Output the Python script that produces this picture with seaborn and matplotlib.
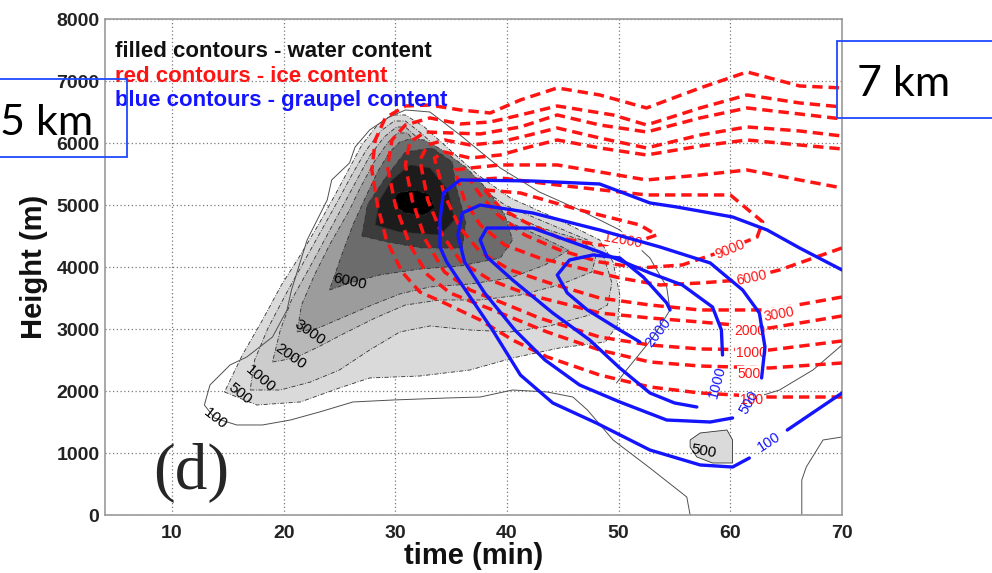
import matplotlib
matplotlib.use("Agg")
import matplotlib.pyplot as plt
import seaborn as sns
from matplotlib.patches import Rectangle

sns.set_theme(style="white")
plt.rcParams['font.family'] = ['Liberation Sans', 'DejaVu Sans']

# ---------------- axes ----------------
X_TICKS = [10, 20, 30, 40, 50, 60, 70]
Y_TICKS = [0, 1000, 2000, 3000, 4000, 5000, 6000, 7000, 8000]
X_LABEL = "time (min)"
Y_LABEL = "Height (m)"
LEGEND_LINES = ["filled contours - water content",
                "red contours - ice content",
                "blue contours - graupel content"]
PANEL = "(d)"

# ---------------- water content (filled, grey) ----------------
W500_T = [14.7, 17.6, 21.5, 25.0, 27.7, 32.2, 36.7, 40.5, 44.7, 48.8, 49.9, 50.1, 49.5, 48.3,
          44.7, 40.3, 37.4, 34.9, 32.6, 30.9, 29.7, 28.4, 27.0, 25.8, 24.6, 23.1, 21.5, 19.8, 18.1, 16.3]
W500_H = [1984, 1774, 1823, 2049, 2210, 2242, 2339, 2532, 2694, 2790, 3065, 3549, 4081, 4436,
          4758, 5113, 5484, 5887, 6258, 6452, 6452, 6291, 5968, 5565, 5162, 4678, 4194, 3710, 3145, 2581]
W1000_T = [17.0, 19.7, 22.4, 25.0, 27.7, 30.4, 33.1, 36.7, 40.3, 43.8, 47.4, 49.0, 49.4, 48.7, 47.2,
           43.8, 39.8, 37.0, 34.5, 32.4, 30.9, 29.9, 28.7, 27.4, 26.1, 24.9, 23.4, 21.8, 20.3, 18.6, 17.4]
W1000_H = [2016, 2016, 2145, 2339, 2661, 2952, 3049, 2984, 2952, 3049, 3226, 3387, 3742, 4145, 4436,
           4694, 5000, 5371, 5791, 6146, 6355, 6355, 6194, 5887, 5484, 5081, 4597, 4081, 3597, 3016, 2500]
W2000_T = [19.0, 21.0, 23.1, 25.5, 28.2, 30.9, 34.0, 37.6, 41.2, 44.7, 47.6, 48.0, 46.7,
           43.4, 39.5, 36.7, 34.2, 32.2, 30.9, 30.1, 29.0, 27.7, 26.5, 25.3, 23.8, 22.3, 20.7, 19.7]
W2000_H = [2468, 2532, 2710, 2936, 3178, 3387, 3468, 3468, 3549, 3710, 3920, 4194, 4436,
           4613, 4887, 5258, 5694, 6049, 6258, 6258, 6097, 5791, 5387, 4984, 4484, 3984, 3468, 2984]
W3000_T = [21.2, 23.1, 25.2, 27.7, 30.4, 33.1, 36.7, 40.3, 43.4, 45.5,
           42.9, 39.4, 36.4, 33.8, 32.0, 31.1, 30.2, 29.3, 28.1, 26.9, 25.8, 24.2, 22.8, 21.6]
W3000_H = [2952, 3016, 3178, 3371, 3565, 3678, 3726, 3823, 4032, 4274,
           4500, 4791, 5145, 5597, 5952, 6162, 6162, 6000, 5694, 5291, 4887, 4387, 3887, 3387]
W6000_T = [24.1, 25.9, 28.6, 32.2, 35.8, 39.4, 40.5, 39.8, 38.3, 36.3, 34.2, 32.6, 31.3,
           30.4, 29.5, 28.4, 27.3, 26.2, 25.2]
W6000_H = [3629, 3742, 3871, 3968, 4016, 4145, 4436, 4839, 5242, 5613, 5887, 6049, 6065,
           6016, 5855, 5533, 5113, 4678, 4194]
W9000_T = [27.0, 29.3, 32.4, 36.0, 36.3, 35.4, 35.1, 33.3, 30.9, 29.1, 27.5]
W9000_H = [4500, 4403, 4307, 4307, 4726, 5323, 5694, 5920, 5855, 5436, 5000]
W12000_T = [28.2, 30.4, 34.0, 35.3, 34.7, 33.1, 31.3, 29.7, 28.6]
W12000_H = [4678, 4565, 4516, 4758, 5242, 5597, 5646, 5404, 5081]
W15000_T = [29.7, 30.9, 32.6, 33.5, 33.1, 31.8, 30.2]
W15000_H = [5000, 4871, 4839, 4952, 5162, 5242, 5194]
W500B_T = [56.4, 57.3, 59.7, 60.2, 60.2, 58.4, 57.0, 56.4]
W500B_H = [1210, 1323, 1371, 1210, 839, 839, 936, 1097]
WATER_COLORS = ['#dadada', '#cccccc', '#b8b8b8', '#9c9c9c', '#6c6c6c', '#3c3c3c', '#1c1c1c', '#000000']

# thin low-level water lines (100 contour)
W100_T = [56.4, 56.1, 52.8, 49.5, 47.2, 45.9, 43.6, 40.5, 37.6, 34.6, 29.8, 26.2, 23.2, 20.6, 18.1,
          15.8, 13.8, 12.9, 13.4, 15.2, 16.7, 19.0, 20.3, 20.7, 22.1, 23.9, 24.3, 25.9, 26.4, 27.7,
          29.3, 30.9, 33.1, 35.8, 39.4, 42.9, 46.5, 50.1, 52.8, 54.3, 54.6, 53.1, 50.7, 49.8]
W100_H = [0, 290, 758, 1210, 1694, 1903, 1984, 2016, 1903, 1887, 1855, 1823, 1661, 1532, 1452,
          1452, 1565, 1774, 2097, 2420, 2549, 2871, 3307, 3629, 4436, 5081, 5404, 5678, 5936, 6210,
          6404, 6533, 6500, 6129, 5597, 5210, 4920, 4597, 4145, 3678, 3307, 2871, 2339, 2129]
W100B_T = [66.4, 66.4, 66.8, 68.3, 70.0]
W100B_H = [0, 565, 774, 1210, 1258]
W100C_T = [60.8, 62.4, 64.4, 65.9, 67.4, 70.0]
W100C_H = [1903, 1903, 2016, 2178, 2339, 2742]

WATER_LABELS = ["100", "500", "1000", "2000", "3000", "6000", "500"]
WATER_LABEL_T = [13.9, 16.1, 17.9, 20.6, 22.3, 25.9, 57.6]
WATER_LABEL_H = [1560, 1950, 2190, 2560, 2950, 3770, 1020]
WATER_LABEL_ROT = [-38, -38, -40, -35, -35, -12, -10]

# ---------------- ice content (red dashed) ----------------
RED_100_T = [70.0, 63.5, 57.3, 52.8, 48.3, 43.6, 40.5, 37.6, 34.4, 32.2, 30.6, 29.2, 28.4, 27.9,
             28.2, 29.1, 30.9, 33.1, 35.8, 38.5, 41.2, 44.5, 48.3, 52.5, 57.3, 61.5, 66.2, 70.0]
RED_100_H = [1903, 1903, 1968, 2065, 2258, 2549, 2823, 3145, 3420, 3597, 3920, 4436, 5000, 5565,
             6049, 6404, 6597, 6613, 6533, 6484, 6694, 6888, 6775, 6565, 6888, 7146, 6920, 6888]
RED_500_T = [70.0, 63.5, 57.3, 52.8, 48.3, 43.6, 40.5, 37.6, 34.9, 32.9, 31.3, 30.0, 29.3,
             29.7, 30.9, 33.1, 35.8, 38.5, 41.2, 44.5, 49.5, 52.5, 57.3, 61.5, 66.2, 70.0]
RED_500_H = [2452, 2371, 2403, 2468, 2661, 2952, 3178, 3387, 3581, 3871, 4355, 5000, 5613,
             6049, 6291, 6404, 6307, 6339, 6452, 6597, 6452, 6291, 6565, 6775, 6646, 6581]
RED_1000_T = [70.0, 63.5, 57.3, 52.8, 48.3, 42.9, 39.4, 36.7, 34.4, 32.7, 31.5, 30.9,
              31.3, 32.7, 34.9, 37.6, 41.2, 44.5, 48.3, 52.5, 57.3, 61.5, 66.2, 70.0]
RED_1000_H = [2807, 2661, 2678, 2742, 2871, 3178, 3436, 3629, 3920, 4436, 5081, 5646,
              6016, 6178, 6162, 6146, 6259, 6452, 6291, 6178, 6404, 6565, 6468, 6388]
RED_2000_T = [70.0, 63.5, 57.3, 52.8, 48.3, 45.6, 42.0, 38.5, 35.9, 34.2, 32.9, 32.2,
              32.9, 34.4, 36.7, 39.4, 42.0, 44.5, 48.3, 52.5, 57.3, 61.5, 66.2, 70.0]
RED_2000_H = [3210, 3016, 3113, 3178, 3258, 3387, 3549, 3791, 4081, 4516, 5081, 5726,
              5968, 6049, 5968, 6016, 6129, 6242, 6081, 5920, 6129, 6259, 6194, 6113]
RED_3000_T = [70.0, 63.5, 57.3, 52.8, 48.3, 43.8, 40.3, 37.6, 35.8, 34.4, 33.5,
              34.4, 36.7, 39.4, 42.0, 44.5, 48.3, 52.5, 57.3, 61.5, 66.2, 70.0]
RED_3000_H = [3516, 3307, 3307, 3387, 3500, 3742, 3952, 4242, 4629, 5162, 5758,
              5855, 5758, 5807, 5936, 6049, 5920, 5807, 5952, 6049, 5968, 5904]
RED_6000_T = [70.0, 64.4, 60.9, 57.3, 53.7, 50.1, 46.5, 42.9, 39.8, 37.6, 36.2, 35.3,
              36.7, 39.4, 44.5, 48.3, 52.5, 57.3, 61.5, 66.2, 70.0]
RED_6000_H = [4307, 3952, 3791, 3742, 3710, 3823, 3984, 4146, 4355, 4678, 5081, 5565,
              5597, 5646, 5646, 5533, 5404, 5484, 5565, 5404, 5275]
RED_9000_T = [36.7, 39.4, 44.5, 52.5, 60.0, 62.9, 62.4, 59.1, 55.7, 51.9, 48.3, 44.7, 41.6, 39.2, 37.6, 36.7]
RED_9000_H = [5404, 5436, 5323, 5162, 5162, 4726, 4484, 4242, 4033, 3984, 4081, 4275, 4516, 4839, 5162, 5404]
RED_12000_T = [38.0, 41.2, 46.5, 51.9, 53.4, 51.6, 48.3, 44.7, 41.6, 39.4, 38.0]
RED_12000_H = [5243, 5194, 4920, 4678, 4516, 4404, 4355, 4468, 4726, 4952, 5243]

RED_LABELS = ["12000", "9000", "6000", "3000", "2000", "1000", "500", "100"]
RED_LABEL_T = [50.4, 60.0, 61.9, 64.4, 61.7, 61.9, 61.7, 61.9]
RED_LABEL_H = [4436, 4275, 3823, 3242, 2968, 2613, 2274, 1855]
RED_LABEL_ROT = [-10, 22, 12, 10, 0, 0, 0, 0]

# ---------------- graupel content (blue solid) ----------------
BLUE_100_T = [70.0, 66.2, 63.3, 60.2, 55.2, 52.8, 48.3, 42.3, 35.8, 34.3, 34.0, 34.0, 34.6, 36.7,
              38.7, 41.2, 44.1, 48.0, 52.8, 57.3, 60.2, 61.7]
BLUE_100_H = [3952, 4307, 4597, 4807, 4968, 5033, 5339, 5387, 5404, 5194, 4758, 4323, 4081, 3516,
              2984, 2258, 1807, 1484, 1048, 807, 774, 919]
BLUE_100_TAIL_T = [65.1, 70.0]
BLUE_100_TAIL_H = [1371, 1968]
BLUE_500_T = [60.2, 58.2, 54.3, 50.1, 46.5, 43.4, 40.7, 38.0, 36.2, 35.6, 36.0, 37.6, 42.3, 48.3,
              53.7, 58.2, 61.1, 62.6, 63.1, 62.8]
BLUE_500_H = [1565, 1500, 1532, 1823, 2097, 2500, 2984, 3581, 4081, 4516, 4871, 5000, 4871, 4597,
              4323, 4065, 3629, 3258, 2710, 2210]
BLUE_1000_T = [57.0, 55.0, 52.8, 50.1, 47.4, 44.1, 40.5, 38.2, 37.6, 38.2, 42.3, 48.3, 52.8,
               55.7, 58.4, 59.2, 59.3]
BLUE_1000_H = [1742, 1807, 1968, 2371, 2823, 3258, 3791, 4162, 4436, 4629, 4629, 4242, 3904,
               3710, 3355, 2984, 2581]
BLUE_2000_T = [51.9, 50.1, 47.2, 45.4, 44.5, 45.6, 47.7, 50.1, 52.2, 54.3, 54.6]
BLUE_2000_H = [2791, 2984, 3307, 3581, 3871, 4113, 4194, 4146, 3839, 3420, 3307]

BLUE_LABELS = ["2000", "1000", "500", "100"]
BLUE_LABEL_T = [53.5, 58.8, 61.7, 63.5]
BLUE_LABEL_H = [2936, 2145, 1820, 1180]
BLUE_LABEL_ROT = [52, 75, 60, 33]

# ---------------- figure ----------------
fig = plt.figure(figsize=(9.92, 5.73), dpi=100)
ax = fig.add_axes([105 / 992, 1 - 515 / 573, (842 - 105) / 992, (515 - 19) / 573])
ax.set_xlim(4, 70)
ax.set_ylim(0, 8000)
ax.set_axisbelow(True)
ax.grid(True, linestyle=(0, (1, 2)), color='#7a7a7a', linewidth=0.9)

# filled water contours
water_polys = [(W500_T, W500_H), (W1000_T, W1000_H), (W2000_T, W2000_H), (W3000_T, W3000_H),
               (W6000_T, W6000_H), (W9000_T, W9000_H), (W12000_T, W12000_H), (W15000_T, W15000_H)]
for (t, h), c in zip(water_polys, WATER_COLORS):
    ax.fill(t, h, facecolor=c, edgecolor='#303030', linewidth=0.6,
            linestyle=(0, (5, 2, 1, 2)), zorder=1)
ax.fill(W500B_T, W500B_H, facecolor=WATER_COLORS[0], edgecolor='#303030', linewidth=0.6, zorder=1)


def line(t, h, **kw):
    sns.lineplot(x=t, y=h, sort=False, estimator=None, ax=ax, legend=False, **kw)


for t, h in [(W100_T, W100_H), (W100B_T, W100B_H), (W100C_T, W100C_H)]:
    line(t, h, color='#505050', linewidth=0.7, zorder=2)

for lab, t, h, r in zip(WATER_LABELS, WATER_LABEL_T, WATER_LABEL_H, WATER_LABEL_ROT):
    ax.text(t, h, lab, rotation=r, fontsize=11, color='black', ha='center', va='center', zorder=6)

# red ice contours
red_paths = [(RED_100_T, RED_100_H), (RED_500_T, RED_500_H), (RED_1000_T, RED_1000_H),
             (RED_2000_T, RED_2000_H), (RED_3000_T, RED_3000_H), (RED_6000_T, RED_6000_H),
             (RED_9000_T, RED_9000_H), (RED_12000_T, RED_12000_H)]
for t, h in red_paths:
    line(t, h, color='#ff1414', linewidth=2.5, linestyle=(0, (3.0, 1.7)), zorder=3)
for lab, t, h, r in zip(RED_LABELS, RED_LABEL_T, RED_LABEL_H, RED_LABEL_ROT):
    ax.text(t, h, lab, rotation=r, fontsize=10, color='#ff1414', ha='center', va='center', zorder=4,
            bbox=dict(boxstyle='square,pad=0.05', facecolor='white', edgecolor='none'))

# blue graupel contours
blue_paths = [(BLUE_100_T, BLUE_100_H), (BLUE_100_TAIL_T, BLUE_100_TAIL_H), (BLUE_500_T, BLUE_500_H),
              (BLUE_1000_T, BLUE_1000_H), (BLUE_2000_T, BLUE_2000_H)]
for t, h in blue_paths:
    line(t, h, color='#1414ff', linewidth=2.4, zorder=5)
for lab, t, h, r in zip(BLUE_LABELS, BLUE_LABEL_T, BLUE_LABEL_H, BLUE_LABEL_ROT):
    ax.text(t, h, lab, rotation=r, fontsize=10.5, color='#1414ff', ha='center', va='center', zorder=6)

# legend-like text
for txt, y, c in zip(LEGEND_LINES, [7470, 7080, 6690], ['#111111', '#ff1414', '#1414ff']):
    ax.text(4.9, y, txt, color=c, fontsize=16, fontweight='bold', ha='left', va='center', zorder=7)

ax.text(11.7, 680, PANEL, fontsize=47, family=['Liberation Serif', 'DejaVu Serif'],
        ha='center', va='center', zorder=7)

ax.set_xticks(X_TICKS)
ax.set_yticks(Y_TICKS)
ax.set_xticklabels([str(v) for v in X_TICKS])
ax.set_yticklabels([str(v) for v in Y_TICKS])
ax.tick_params(axis='both', length=0, labelsize=14, colors='#222222')
ax.tick_params(axis='x', pad=7)
ax.tick_params(axis='y', pad=4)
for lbl in ax.get_xticklabels() + ax.get_yticklabels():
    lbl.set_fontweight('bold')
ax.set_xlabel(X_LABEL, fontsize=21, fontweight='bold', labelpad=0, color='#111111')
ax.set_ylabel(Y_LABEL, fontsize=21, fontweight='bold', labelpad=6, color='#111111')
for s in ax.spines.values():
    s.set_color('#9a9a9a')
    s.set_linewidth(1.2)

# annotation boxes (figure coordinates)
box_blue = '#1f48ff'
fig.add_artist(Rectangle((-0.01, 1 - 157 / 573), 0.01 + 127 / 992, 78 / 573, transform=fig.transFigure,
                         fill=False, edgecolor=box_blue, linewidth=1.3, zorder=10))
fig.text(0.0, 1 - 123 / 573, "5 km", fontsize=31, family=['Lato', 'DejaVu Sans'], color='black',
         ha='left', va='center', zorder=11)
fig.add_artist(Rectangle((837 / 992, 1 - 118 / 573), 0.2, 77 / 573, transform=fig.transFigure,
                         fill=False, edgecolor=box_blue, linewidth=1.3, zorder=10))
fig.text(857 / 992, 1 - 84 / 573, "7 km", fontsize=31, family=['Lato', 'DejaVu Sans'], color='black',
         ha='left', va='center', zorder=11)

fig.savefig("out.png", dpi=100)
